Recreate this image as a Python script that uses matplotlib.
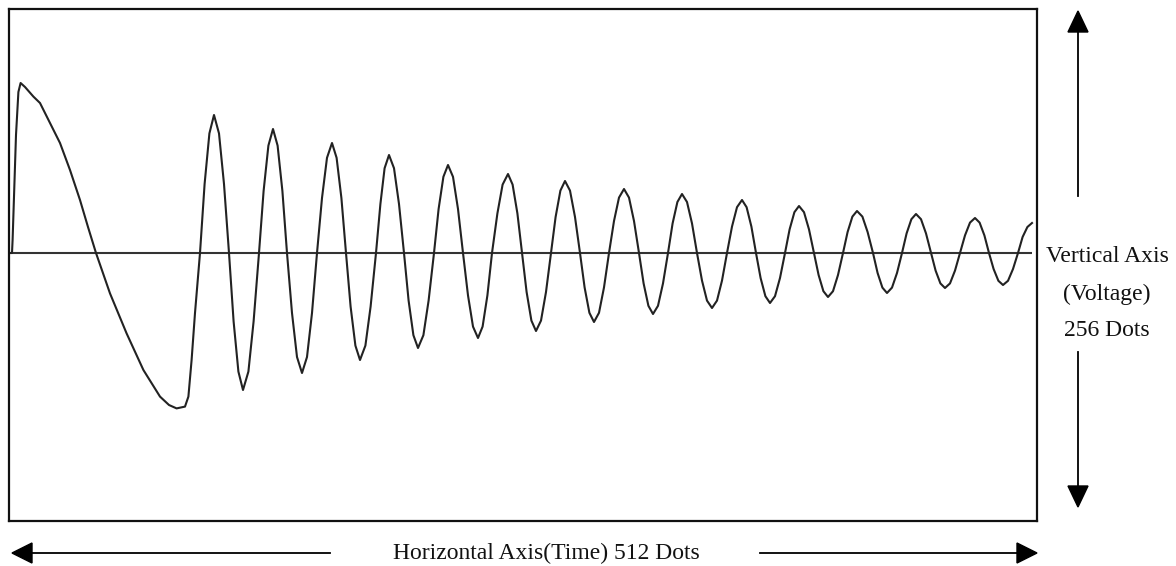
import matplotlib
matplotlib.use("Agg")
import matplotlib.pyplot as plt
from matplotlib.patches import Polygon

# ---- data: sampled waveform (time in dots 0..512, voltage in dots relative to baseline)
time_dots = [
    0, 1.5, 1.8, 2.5, 3.5, 4.7, 5.8, 8, 12.2, 15.5, 20.5, 25.5, 30.5, 35.5, 39.5, 43.5,
    50.5, 58.8, 67.2, 75.5, 80, 83.8, 88, 89.7, 91.3, 93, 95.5,
    97.8, 100.2, 102.5, 105.0, 107.5, 110,
    112.3, 114.7, 117, 119.7, 122.3, 125,
    127.3, 129.7, 132, 134.3, 136.7, 139,
    141.5, 144.0, 146.5, 149.0, 151.5, 154,
    156.5, 159.0, 161.5, 163.8, 166.2, 168.5,
    170.8, 173.2, 175.5, 178.2, 180.8, 183.5,
    185.7, 187.8, 190, 192.5, 195.0, 197.5,
    199.8, 202.2, 204.5, 207.2, 209.8, 212.5,
    214.8, 217.2, 219.5, 222.0, 224.5, 227,
    229.5, 232.0, 234.5, 236.8, 239.2, 241.5,
    244.2, 246.8, 249.5, 251.8, 254.2, 256.5,
    258.8, 261.2, 263.5, 266.0, 268.5, 271,
    273.3, 275.7, 278, 280.5, 283.0, 285.5,
    287.8, 290.2, 292.5, 295.0, 297.5, 300,
    302.5, 305.0, 307.5, 310.0, 312.5, 315,
    317.3, 319.7, 322, 324.5, 327.0, 329.5,
    331.8, 334.2, 336.5, 339.0, 341.5, 344,
    346.5, 349.0, 351.5, 354.0, 356.5, 359,
    361.5, 364.0, 366.5, 368.8, 371.2, 373.5,
    375.8, 378.2, 380.5, 383.0, 385.5, 388,
    390.3, 392.7, 395, 397.5, 400.0, 402.5,
    404.8, 407.2, 409.5, 412.0, 414.5, 417,
    419.3, 421.7, 424, 426.7, 429.3, 432,
    434.3, 436.7, 439, 441.5, 444.0, 446.5,
    448.8, 451.2, 453.5, 456.0, 458.5, 461,
    463.3, 465.7, 468, 470.5, 473.0, 475.5,
    478.0, 480.5, 483, 485.3, 487.7, 490,
    492.3, 494.7, 497, 499.5, 502.0, 504.5,
    506.8, 509.2, 511.5,
]
voltage_dots = [
    0, 0, 6.5, 28, 59, 80.5, 85, 83, 78.2, 75, 65, 55, 41.5, 26.5, 13, 0,
    -20.2, -40.2, -58.5, -71.8, -76, -77.7, -76.8, -71.8, -53.5, -30, 0,
    34.5, 59.8, 69, 59.8, 34.5, 0,
    -34.2, -59.3, -68.5, -59.3, -34.2, 0,
    31, 53.7, 62, 53.7, 31, 0,
    -30, -52, -60, -52, -30, 0,
    27.5, 47.6, 55, 47.6, 27.5, 0,
    -26.8, -46.3, -53.5, -46.3, -26.8, 0,
    24.5, 42.4, 49, 42.4, 24.5, 0,
    -23.8, -41.1, -47.5, -41.1, -23.8, 0,
    22, 38.1, 44, 38.1, 22, 0,
    -21.2, -36.8, -42.5, -36.8, -21.2, 0,
    19.8, 34.2, 39.5, 34.2, 19.8, 0,
    -19.5, -33.8, -39, -33.8, -19.5, 0,
    18, 31.2, 36, 31.2, 18, 0,
    -17.2, -29.9, -34.5, -29.9, -17.2, 0,
    16, 27.7, 32, 27.7, 16, 0,
    -15.2, -26.4, -30.5, -26.4, -15.2, 0,
    14.8, 25.5, 29.5, 25.5, 14.8, 0,
    -13.8, -23.8, -27.5, -23.8, -13.8, 0,
    13.2, 22.9, 26.5, 22.9, 13.2, 0,
    -12.5, -21.6, -25, -21.6, -12.5, 0,
    11.8, 20.4, 23.5, 20.4, 11.8, 0,
    -11, -19.1, -22, -19.1, -11, 0,
    10.5, 18.2, 21, 18.2, 10.5, 0,
    -10, -17.3, -20, -17.3, -10, 0,
    9.8, 16.9, 19.5, 16.9, 9.8, 0,
    -8.8, -15.2, -17.5, -15.2, -8.8, 0,
    8.8, 15.2, 17.5, 15.2, 8.8, 0,
    -8, -13.9, -16, -13.9, -8, 0,
    8, 13, 15,
]
x_limits = [0, 514]
y_limits = [-134, 122]
baseline_end = 511.5

label_horizontal = "Horizontal Axis(Time) 512 Dots"
label_vertical = ["Vertical Axis", "(Voltage)", "256 Dots"]

W, H = 1176, 566
fig = plt.figure(figsize=(W / 100, H / 100), dpi=100)
fig.patch.set_facecolor("white")

# main plotting box (pixel placement)
L, R, T, B = 9, 1037, 9, 521
ax = fig.add_axes([L / W, 1 - B / H, (R - L) / W, (B - T) / H])
ax.set_xlim(*x_limits)
ax.set_ylim(*y_limits)
ax.set_xticks([])
ax.set_yticks([])
for s in ax.spines.values():
    s.set_linewidth(1.6)
    s.set_color("#111111")

ax.plot([0, baseline_end], [0, 0], color="#333333", lw=1.5, solid_capstyle="butt")
ax.plot(time_dots, voltage_dots, color="#222222", lw=1.5, solid_joinstyle="round")

# overlay for annotations in pixel coordinates
ov = fig.add_axes([0, 0, 1, 1], facecolor="none")
ov.set_xlim(0, W)
ov.set_ylim(H, 0)
ov.axis("off")

font = dict(family=["Liberation Serif", "DejaVu Serif"], color="#111111")

# horizontal arrows
hy = 553
ov.plot([30, 330], [hy, hy], color="black", lw=1.3)
ov.plot([760, 1019], [hy, hy], color="black", lw=1.3)
ov.add_patch(Polygon([[12, hy], [32, hy - 10], [32, hy + 10]], closed=True, color="black"))
ov.add_patch(Polygon([[1037, hy], [1017, hy - 10], [1017, hy + 10]], closed=True, color="black"))
ov.text(546, hy, label_horizontal, ha="center", va="center", fontsize=17, **font)

# vertical arrows
vx = 1078
ov.plot([vx, vx], [30, 196], color="black", lw=1.3)
ov.plot([vx, vx], [352, 488], color="black", lw=1.3)
ov.add_patch(Polygon([[vx, 11], [vx - 10, 32], [vx + 10, 32]], closed=True, color="black"))
ov.add_patch(Polygon([[vx, 507], [vx - 10, 486], [vx + 10, 486]], closed=True, color="black"))
for txt, yy in zip(label_vertical, [257, 294, 330]):
    ov.text(1107, yy, txt, ha="center", va="center", fontsize=17, **font)

fig.savefig("out.png", dpi=100, facecolor="white")
